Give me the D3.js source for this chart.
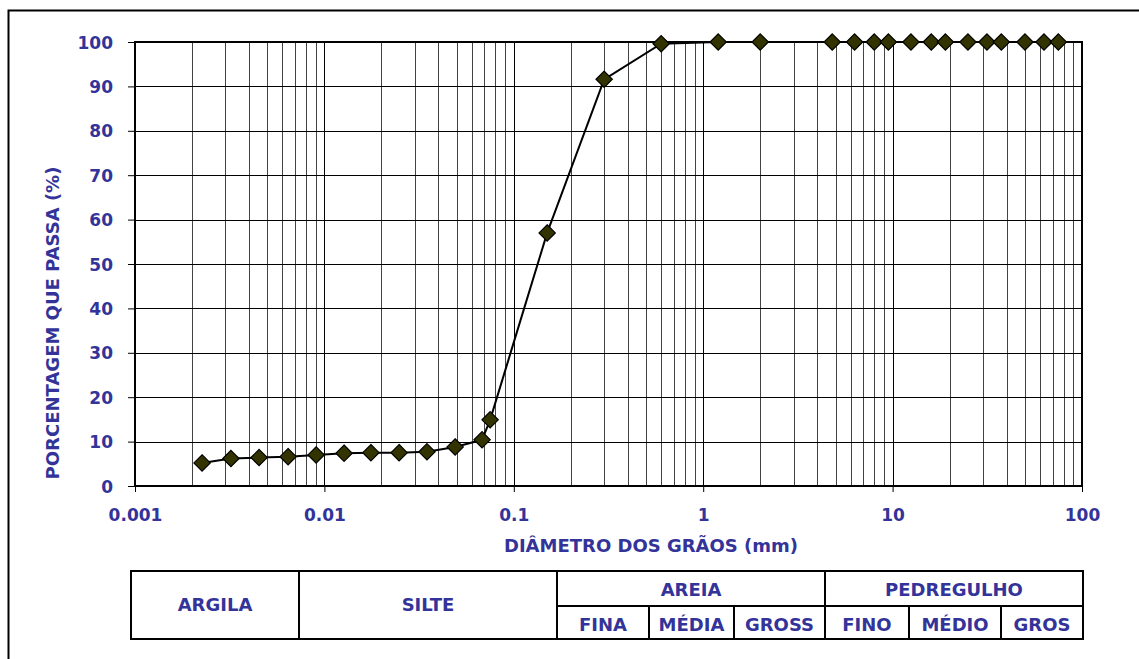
<!DOCTYPE html>
<html>
<head>
<meta charset="utf-8">
<script src="https://cdn.jsdelivr.net/npm/d3@7"></script>
<style>
  body { margin: 0; background: #fff; }
  text { font-family: "DejaVu Sans", sans-serif; font-weight: bold; fill: #333399; }
</style>
</head>
<body>
<div id="chart"></div>
<script>
const svgWidth = 1139;
const svgHeight = 659;
const margin = {top: 42, left: 135, right: 57, bottom: 173};
const width = svgWidth - margin.left - margin.right;
const height = svgHeight - margin.top - margin.bottom;

// grain size (mm) and % passing
const diameters = [0.00226, 0.00321, 0.00452, 0.00643, 0.00904, 0.0127, 0.0176, 0.0248, 0.0348, 0.049, 0.068,
                   0.075, 0.15, 0.3, 0.6, 1.2, 2.0, 4.8, 6.3, 8.0, 9.5, 12.5, 16, 19, 25, 31.5, 37.5, 50, 63, 75];
const passing = [5.2, 6.2, 6.4, 6.6, 7.0, 7.4, 7.5, 7.5, 7.7, 8.8, 10.4,
                 14.9, 57, 91.6, 99.6, 100, 100, 100, 100, 100, 100, 100, 100, 100, 100, 100, 100, 100, 100, 100];
const xTicks = [0.001, 0.01, 0.1, 1, 10, 100];
const xTickLabels = ["0.001", "0.01", "0.1", "1", "10", "100"];
const yTicks = [0, 10, 20, 30, 40, 50, 60, 70, 80, 90, 100];

// classification table
const topRow = ["ARGILA", "SILTE", "AREIA", "PEDREGULHO"];
const areiaSub = ["FINA", "MÉDIA", "GROSS"];
const pedregulhoSub = ["FINO", "MÉDIO", "GROS"];

const data = diameters.map((d, i) => ({d: d, p: passing[i]}));

const svg = d3.select("#chart").append("svg")
    .attr("width", svgWidth)
    .attr("height", svgHeight);

// outer frame
svg.append("rect")
    .attr("x", 8.5).attr("y", 10.5)
    .attr("width", 1140).attr("height", 660)
    .attr("fill", "none").attr("stroke", "#000").attr("stroke-width", 2);

const g = svg.append("g")
    .attr("transform", "translate(" + margin.left + "," + margin.top + ")");

const x = d3.scaleLog().domain([0.001, 100]).range([0, width]);
const y = d3.scaleLinear().domain([0, 100]).range([height, 0]);

// vertical grid: 2..9 in every decade, plus the decades
const minor = [];
for (let e = -3; e < 2; e++) {
  for (let k = 2; k <= 9; k++) minor.push(k * Math.pow(10, e));
}
g.selectAll(".vminor").data(minor).enter().append("line")
    .attr("x1", d => Math.round(x(d)) + 0.5).attr("x2", d => Math.round(x(d)) + 0.5)
    .attr("y1", 0).attr("y2", height)
    .attr("stroke", "#444").attr("stroke-width", 1);
g.selectAll(".vmajor").data(xTicks).enter().append("line")
    .attr("x1", d => Math.round(x(d)) + 0.5).attr("x2", d => Math.round(x(d)) + 0.5)
    .attr("y1", 0).attr("y2", height)
    .attr("stroke", "#000").attr("stroke-width", 1);

// horizontal grid
g.selectAll(".hgrid").data(yTicks).enter().append("line")
    .attr("x1", 0).attr("x2", width)
    .attr("y1", d => Math.round(y(d)) + 0.5).attr("y2", d => Math.round(y(d)) + 0.5)
    .attr("stroke", "#000").attr("stroke-width", 1);

// plot border
g.append("rect")
    .attr("x", 0).attr("y", 0).attr("width", width).attr("height", height)
    .attr("fill", "none").attr("stroke", "#000").attr("stroke-width", 2);

// axes
const yAxis = d3.axisLeft(y).tickValues(yTicks).tickSize(7).tickPadding(15);
const xAxis = d3.axisBottom(x).tickValues(xTicks).tickFormat((d, i) => xTickLabels[i]).tickSize(6).tickPadding(17);

const ya = g.append("g").call(yAxis);
const xa = g.append("g").attr("transform", "translate(0," + height + ")").call(xAxis);
[ya, xa].forEach(a => {
  a.select(".domain").remove();
  a.selectAll("line").attr("stroke", "#000");
  a.selectAll("text").attr("font-size", 17).attr("fill", "#333399")
    .attr("font-family", "DejaVu Sans, sans-serif").attr("font-weight", "bold");
});
ya.selectAll("text").attr("dy", "0.36em");

// axis titles
svg.append("text")
    .attr("transform", "translate(59,323)rotate(-90)")
    .attr("text-anchor", "middle")
    .attr("font-size", 18)
    .text("PORCENTAGEM QUE PASSA (%)");

svg.append("text")
    .attr("x", 651).attr("y", 552)
    .attr("text-anchor", "middle")
    .attr("font-size", 18)
    .text("DIÂMETRO DOS GRÃOS (mm)");

// curve
const line = d3.line().x(d => x(d.d)).y(d => y(d.p));
g.append("path").datum(data)
    .attr("d", line).attr("fill", "none")
    .attr("stroke", "#000").attr("stroke-width", 2);

const diamond = d3.symbol().type(d3.symbolDiamond2).size(170);
g.selectAll(".pt").data(data).enter().append("path")
    .attr("transform", d => "translate(" + x(d.d) + "," + y(d.p) + ")")
    .attr("d", diamond)
    .attr("fill", "#333300").attr("stroke", "#000").attr("stroke-width", 1.2);

// classification table
const tX0 = 131, tX1 = 1083, tY0 = 571, tY1 = 639, tYm = 606;
const cols = [tX0, 299, 557, 825, tX1];
const areiaCols = [557, 649, 734, 825];
const pedCols = [825, 909, 1001, 1083];
const tbl = svg.append("g").attr("stroke", "#000").attr("stroke-width", 2).attr("fill", "none");
tbl.append("rect").attr("x", tX0).attr("y", tY0).attr("width", tX1 - tX0).attr("height", tY1 - tY0);
cols.slice(1, -1).forEach(c => tbl.append("line").attr("x1", c).attr("x2", c).attr("y1", tY0).attr("y2", tY1));
tbl.append("line").attr("x1", 557).attr("x2", tX1).attr("y1", tYm).attr("y2", tYm);
areiaCols.slice(1, -1).concat(pedCols.slice(1, -1)).forEach(c =>
  tbl.append("line").attr("x1", c).attr("x2", c).attr("y1", tYm).attr("y2", tY1));

topRow.forEach((t, i) => {
  const twoRow = i >= 2;
  svg.append("text")
      .attr("x", (cols[i] + cols[i + 1]) / 2)
      .attr("y", twoRow ? (tY0 + tYm) / 2 + 1 : (tY0 + tY1) / 2)
      .attr("dy", "0.36em")
      .attr("text-anchor", "middle").attr("font-size", 18)
      .text(t);
});
[[areiaSub, areiaCols], [pedregulhoSub, pedCols]].forEach(([labels, cs]) => {
  labels.forEach((t, i) => {
    svg.append("text")
        .attr("x", (cs[i] + cs[i + 1]) / 2)
        .attr("y", (tYm + tY1) / 2 + 2)
        .attr("dy", "0.36em")
        .attr("text-anchor", "middle").attr("font-size", 18)
        .text(t);
  });
});
</script>
</body>
</html>
